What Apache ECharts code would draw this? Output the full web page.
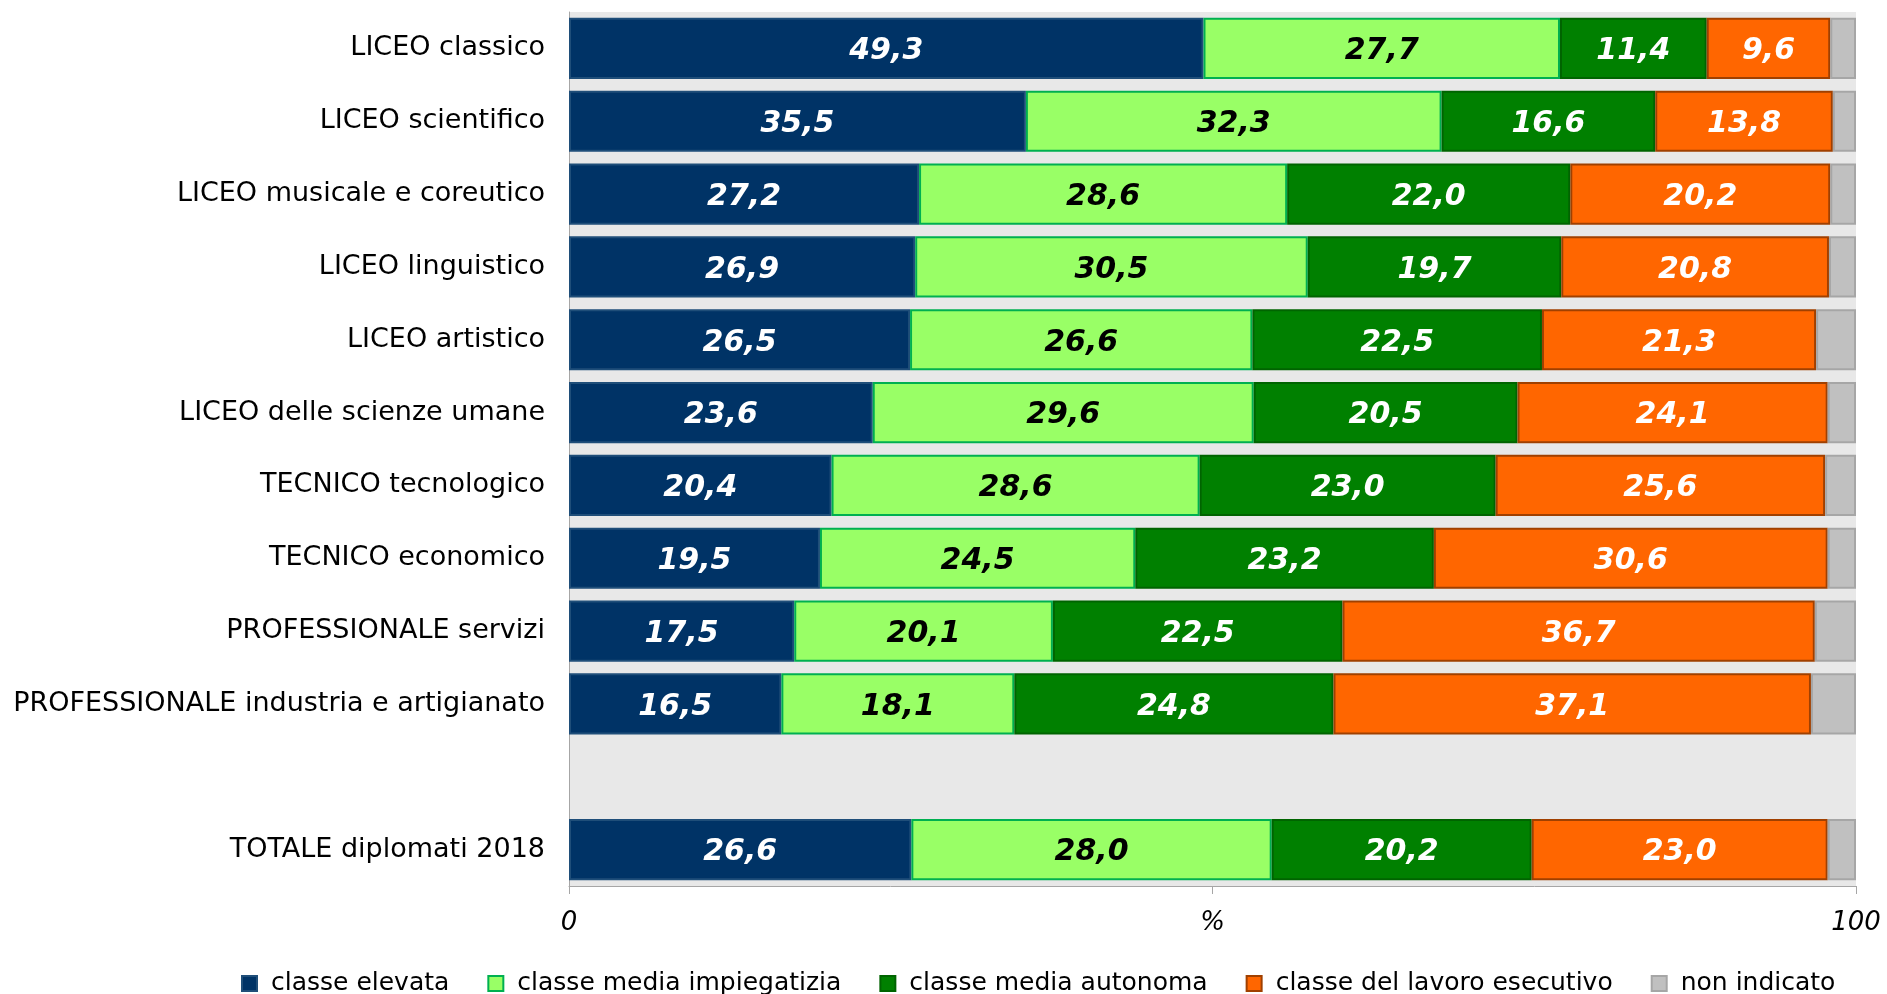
<!DOCTYPE html>
<html>
<head>
<meta charset="utf-8">
<script src="https://cdn.jsdelivr.net/npm/echarts@6/dist/echarts.min.js"></script>
<style>
  html, body { margin: 0; padding: 0; background: #fff; }
  #chart { width: 1887px; height: 994px; }
</style>
</head>
<body>
<div id="chart"></div>
<script>
// categorie (riga vuota prima del totale)
const categories = [
  'LICEO classico',
  'LICEO scientifico',
  'LICEO musicale e coreutico',
  'LICEO linguistico',
  'LICEO artistico',
  'LICEO delle scienze umane',
  'TECNICO tecnologico',
  'TECNICO economico',
  'PROFESSIONALE servizi',
  'PROFESSIONALE industria e artigianato',
  '',
  'TOTALE diplomati 2018'
];

const elevata     = [49.3, 35.5, 27.2, 26.9, 26.5, 23.6, 20.4, 19.5, 17.5, 16.5, null, 26.6];
const impiegatizia = [27.7, 32.3, 28.6, 30.5, 26.6, 29.6, 28.6, 24.5, 20.1, 18.1, null, 28.0];
const autonoma    = [11.4, 16.6, 22.0, 19.7, 22.5, 20.5, 23.0, 23.2, 22.5, 24.8, null, 20.2];
const esecutivo   = [9.6, 13.8, 20.2, 20.8, 21.3, 24.1, 25.6, 30.6, 36.7, 37.1, null, 23.0];
const nonIndicato = [2.0, 1.8, 2.0, 2.1, 3.1, 2.2, 2.4, 2.2, 3.2, 3.5, null, 2.2];

const xTicks = { 0: '0', 50: '%', 100: '100' };

const chart = echarts.init(document.getElementById('chart'));

const fmt = p => p.value == null ? '' : p.value.toFixed(1).replace('.', ',');

function serie(name, data, color, border, textColor, showLabel) {
  return {
    name: name,
    type: 'bar',
    stack: 'tot',
    data: data,
    barCategoryGap: '16%',
    itemStyle: { color: color, borderColor: border, borderWidth: 2 },
    label: {
      show: showLabel,
      position: 'inside',
      offset: [0, 3],
      formatter: fmt,
      color: textColor,
      fontFamily: 'DejaVu Sans',
      fontWeight: 'bold',
      fontStyle: 'italic',
      fontSize: 30
    },
    emphasis: { disabled: true }
  };
}

const option = {
  animation: false,
  textStyle: { fontFamily: 'DejaVu Sans' },
  grid: { left: 569, right: 31, top: 12, bottom: 108, containLabel: false },
  xAxis: {
    type: 'value',
    min: 0,
    max: 100,
    interval: 50,
    axisLine: { show: true, lineStyle: { color: '#a6a6a6', width: 1 } },
    axisTick: { show: true, length: 8, lineStyle: { color: '#a6a6a6' } },
    splitLine: { show: false },
    axisLabel: {
      formatter: v => xTicks[v],
      fontStyle: 'italic',
      fontSize: 26,
      color: '#000',
      margin: 24
    }
  },
  yAxis: {
    type: 'category',
    data: categories,
    inverse: true,
    axisLine: { show: true, lineStyle: { color: '#a6a6a6' } },
    axisTick: { show: false },
    splitArea: { show: true, areaStyle: { color: ['#e8e8e8', '#e8e8e8'] } },
    axisLabel: { fontSize: 27, color: '#000', margin: 24, padding: [5, 0, 0, 0] }
  },
  legend: {
    bottom: -7,
    left: 236,
    itemWidth: 15,
    itemHeight: 15,
    itemGap: 38,
    icon: 'rect',
    textStyle: { fontSize: 25, color: '#000', padding: [0, 0, 0, 9] },
    data: ['classe elevata', 'classe media impiegatizia', 'classe media autonoma', 'classe del lavoro esecutivo', 'non indicato']
  },
  series: [
    serie('classe elevata', elevata, '#003366', '#1f4e79', '#fff', true),
    serie('classe media impiegatizia', impiegatizia, '#99ff66', '#00b050', '#000', true),
    serie('classe media autonoma', autonoma, '#008000', '#006400', '#fff', true),
    serie('classe del lavoro esecutivo', esecutivo, '#ff6600', '#a04000', '#fff', true),
    serie('non indicato', nonIndicato, '#c0c0c0', '#a6a6a6', '#000', false)
  ]
};

chart.setOption(option);
</script>
</body>
</html>
